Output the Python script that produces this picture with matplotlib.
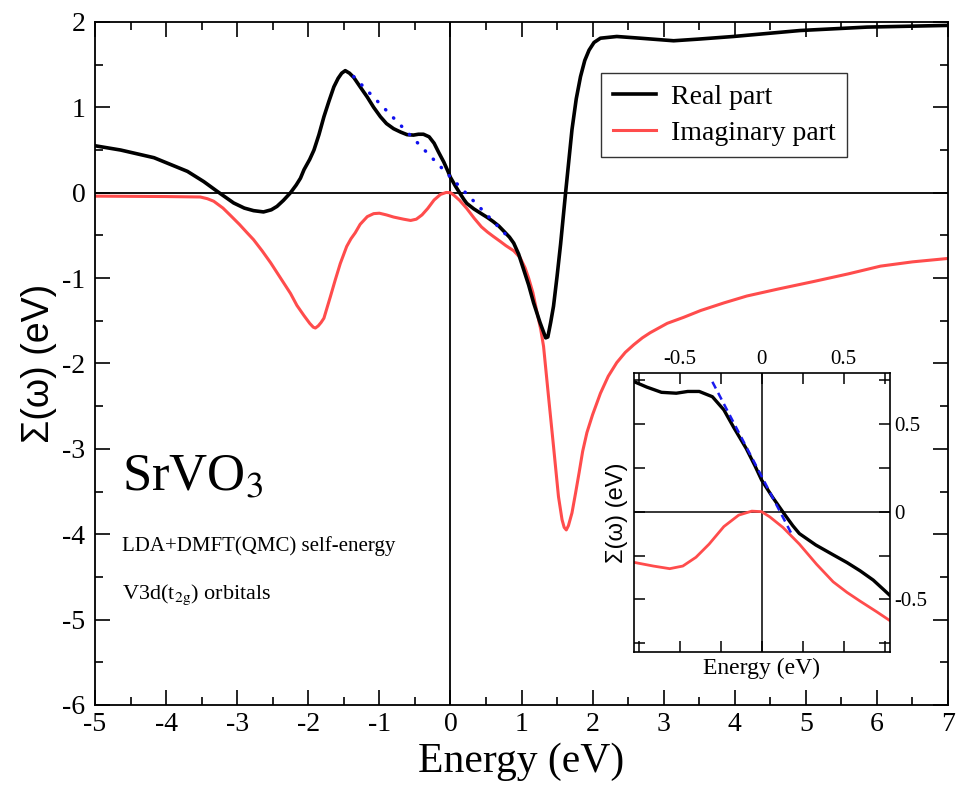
import matplotlib
matplotlib.use("Agg")
import matplotlib.pyplot as plt
from matplotlib.ticker import MultipleLocator, FuncFormatter

plt.rcParams['font.family'] = ['Liberation Serif', 'DejaVu Serif']
plt.rcParams['mathtext.fontset'] = 'stix'
plt.rcParams['axes.unicode_minus'] = False

# self-energy of SrVO3, V3d(t2g), from LDA+DMFT(QMC)
energy_re = [-5.0, -4.64, -4.17, -3.70, -3.47, -3.28, -3.05, -2.9, -2.77, -2.63,
             -2.52, -2.44, -2.35, -2.25, -2.17, -2.11, -2.06, -1.98, -1.92, -1.85,
             -1.78, -1.71, -1.64, -1.58, -1.53, -1.48, -1.42, -1.36, -1.27, -1.17,
             -1.08, -0.985, -0.90, -0.80, -0.70, -0.61, -0.52, -0.45, -0.38, -0.30,
             -0.23, -0.17, -0.094, -0.04, 0.0, 0.067, 0.138, 0.19, 0.23, 0.33,
             0.434, 0.52, 0.6, 0.68, 0.75, 0.83, 0.89, 0.96, 1.03, 1.10,
             1.17, 1.26, 1.34, 1.37, 1.41, 1.45, 1.50, 1.55, 1.62, 1.71,
             1.77, 1.83, 1.89, 1.95, 2.02, 2.11, 2.34, 2.67, 3.14, 3.5,
             3.98, 4.92, 5.86, 7.0]
sigma_re = [0.55, 0.50, 0.41, 0.25, 0.13, 0.015, -0.12, -0.18, -0.21, -0.225,
            -0.20, -0.16, -0.09, 0.0, 0.09, 0.17, 0.27, 0.39, 0.50, 0.68,
            0.89, 1.07, 1.24, 1.34, 1.40, 1.43, 1.40, 1.35, 1.24, 1.12,
            1.00, 0.89, 0.81, 0.75, 0.71, 0.68, 0.675, 0.685, 0.685, 0.655,
            0.58, 0.48, 0.36, 0.26, 0.18, 0.082, -0.013, -0.08, -0.125, -0.19,
            -0.245, -0.29, -0.337, -0.39, -0.45, -0.52, -0.59, -0.72, -0.90, -1.08,
            -1.29, -1.52, -1.70, -1.69, -1.52, -1.33, -0.98, -0.60, 0.0, 0.74,
            1.10, 1.36, 1.55, 1.67, 1.76, 1.81, 1.83, 1.81, 1.78, 1.80,
            1.83, 1.90, 1.94, 1.96]

energy_im = [-5.0, -4.0, -3.52, -3.42, -3.33, -3.2, -3.09, -2.97, -2.86, -2.77,
             -2.65, -2.53, -2.39, -2.25, -2.16, -2.06, -1.98, -1.93, -1.90, -1.86,
             -1.82, -1.78, -1.69, -1.62, -1.55, -1.46, -1.40, -1.34, -1.27, -1.17,
             -1.08, -1.0, -0.90, -0.80, -0.66, -0.56, -0.48, -0.40, -0.32, -0.23,
             -0.14, -0.06, 0.0, 0.05, 0.13, 0.23, 0.335, 0.436, 0.52, 0.6,
             0.70, 0.78, 0.89, 0.98, 1.05, 1.10, 1.16, 1.22, 1.27, 1.31,
             1.38, 1.45, 1.52, 1.57, 1.60, 1.63, 1.66, 1.71, 1.76, 1.81,
             1.86, 1.92, 2.0, 2.11, 2.22, 2.34, 2.46, 2.58, 2.70, 2.81,
             3.05, 3.28, 3.52, 3.85, 4.17, 4.6, 5.11, 5.6, 6.05, 6.5,
             7.0]
sigma_im = [-0.04, -0.045, -0.05, -0.07, -0.10, -0.18, -0.27, -0.37, -0.47, -0.55,
            -0.68, -0.82, -1.00, -1.18, -1.32, -1.44, -1.53, -1.575, -1.585, -1.56,
            -1.52, -1.47, -1.22, -1.02, -0.83, -0.63, -0.54, -0.47, -0.37, -0.28,
            -0.245, -0.24, -0.26, -0.285, -0.31, -0.325, -0.31, -0.26, -0.185, -0.085,
            -0.02, 0.003, 0.0, -0.03, -0.09, -0.185, -0.30, -0.40, -0.46, -0.51,
            -0.57, -0.62, -0.68, -0.76, -0.88, -1.0, -1.17, -1.41, -1.60, -1.80,
            -2.39, -2.97, -3.56, -3.83, -3.92, -3.95, -3.90, -3.75, -3.52, -3.28,
            -3.03, -2.81, -2.60, -2.35, -2.15, -1.99, -1.87, -1.78, -1.70, -1.64,
            -1.53, -1.46, -1.38, -1.29, -1.21, -1.13, -1.04, -0.95, -0.86, -0.81,
            -0.77]

# linear fits near the Fermi level
fit_x = [-1.36, 0.78]
fit_y = [1.36, -0.49]
fit_inset_x = [-0.30, 0.19]
fit_inset_y = [0.74, -0.14]

red = '#ff4c4c'

fig = plt.figure(figsize=(9.6, 7.85), dpi=100)
ax = fig.add_axes([0.099, 0.102, 0.8885, 0.870])

ax.axhline(0, color='black', lw=1.3, zorder=1)
ax.axvline(0, color='black', lw=1.3, zorder=1)
ax.plot(energy_re, sigma_re, color='black', lw=2.6, label='Real part', zorder=3)
ax.plot(energy_im, sigma_im, color=red, lw=2.2, label='Imaginary part', zorder=2)
ax.plot(fit_x, fit_y, color='#1010ee', lw=2.5, linestyle=(0, (0.1, 3.2)),
        dash_capstyle='round', zorder=4)

ax.set_xlim(-5, 7)
ax.set_ylim(-6, 2)
ax.xaxis.set_major_locator(MultipleLocator(1))
ax.xaxis.set_minor_locator(MultipleLocator(0.5))
ax.yaxis.set_major_locator(MultipleLocator(1))
ax.yaxis.set_minor_locator(MultipleLocator(0.5))
ax.tick_params(which='both', direction='in', top=True, right=True, width=1.2)
ax.tick_params(which='major', length=11, labelsize=20)
ax.tick_params(which='minor', length=6)
ax.tick_params(axis='x', which='major', pad=5)
ax.tick_params(axis='y', which='major', pad=7)
for s in ax.spines.values():
    s.set_linewidth(1.3)

ax.set_xlabel('Energy (eV)', fontsize=30, labelpad=4)
ax.set_ylabel('Σ(ω) (eV)', fontsize=27,
              family=['Liberation Sans', 'DejaVu Sans'], labelpad=4)

leg = ax.legend(loc='upper left', bbox_to_anchor=(0.593, 0.926), fontsize=20,
                frameon=True, fancybox=False, handlelength=1.55,
                borderpad=0.42, labelspacing=0.38, handletextpad=0.55,
                borderaxespad=0)
leg.get_frame().set_edgecolor('black')
leg.get_frame().set_linewidth(1.0)

ax.text(0.032, 0.315, r'SrVO$_3$', transform=ax.transAxes, fontsize=38)
ax.text(0.032, 0.225, 'LDA+DMFT(QMC) self-energy', transform=ax.transAxes,
        fontsize=15)
ax.text(0.032, 0.155, r'V3d(t$_{\mathrm{2g}}$) orbitals', transform=ax.transAxes,
        fontsize=16)

# zoom around the Fermi level
ins = fig.add_axes([0.660, 0.1694, 0.2667, 0.3554])
ins.axhline(0, color='black', lw=1.1, zorder=1)
ins.axvline(0, color='black', lw=1.1, zorder=1)
ins.plot(energy_re, sigma_re, color='black', lw=2.4, zorder=3)
ins.plot(energy_im, sigma_im, color=red, lw=2.0, zorder=2)
ins.plot(fit_inset_x, fit_inset_y, color='#1a1aee', lw=1.8, linestyle=(0, (3, 2)),
         zorder=4)
ins.set_xlim(-0.78, 0.78)
ins.set_ylim(-0.8, 0.79)
ins.xaxis.set_major_locator(MultipleLocator(0.5))
ins.xaxis.set_minor_locator(MultipleLocator(0.25))
ins.yaxis.set_major_locator(MultipleLocator(0.5))
ins.yaxis.set_minor_locator(MultipleLocator(0.25))
short = FuncFormatter(lambda v, pos: '%g' % v)
ins.xaxis.set_major_formatter(short)
ins.yaxis.set_major_formatter(short)
ins.tick_params(which='both', direction='in', top=True, right=True, bottom=True,
                left=True, labeltop=True, labelbottom=False, labelright=True,
                labelleft=False, length=8, width=1.1, labelsize=15, pad=3)
for s in ins.spines.values():
    s.set_linewidth(1.2)
ins.set_xlabel('Energy (eV)', fontsize=17, labelpad=4)
ins.set_ylabel('Σ(ω) (eV)', fontsize=17,
               family=['Liberation Sans', 'DejaVu Sans'], labelpad=4)

fig.savefig('out.png', dpi=100)
